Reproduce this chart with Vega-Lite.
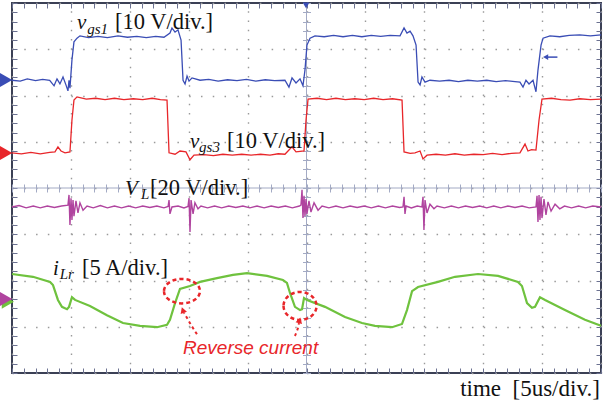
{
  "$schema": "https://vega.github.io/schema/vega-lite/v6.json",
  "width": 589,
  "height": 370,
  "autosize": {"type": "none"},
  "padding": {"left": 12, "top": 3, "right": 9, "bottom": 33},
  "background": "white",
  "config": {"view": {"stroke": "#3b4055", "strokeWidth": 2}},
  "datasets": {
    "center": [{"cx": 25, "cy": 0}],
    "vgs1": [
      {"t":0,"v":2.33},{"t":0.7,"v":2.31},{"t":1.3,"v":2.36},{"t":2.0,"v":2.32},{"t":2.6,"v":2.35},{"t":3.2,"v":2.33},{"t":3.57,"v":2.21},{"t":3.82,"v":2.36},{"t":4.07,"v":2.25},{"t":4.33,"v":2.40},{"t":4.58,"v":2.23},{"t":4.75,"v":2.10},{"t":4.84,"v":2.33},{"t":4.92,"v":2.16},{"t":5.09,"v":2.77},{"t":5.26,"v":3.16},{"t":5.52,"v":3.24},{"t":5.77,"v":3.29},{"t":6.5,"v":3.25},{"t":7.3,"v":3.28},{"t":8.1,"v":3.25},{"t":9.0,"v":3.29},{"t":9.8,"v":3.26},{"t":10.6,"v":3.28},{"t":11.4,"v":3.25},{"t":12.2,"v":3.28},{"t":12.9,"v":3.26},{"t":13.41,"v":3.35},{"t":13.58,"v":3.46},{"t":13.84,"v":3.37},{"t":14.09,"v":3.42},{"t":14.35,"v":3.20},{"t":14.52,"v":2.33},{"t":14.69,"v":2.25},{"t":14.86,"v":2.42},{"t":15.03,"v":2.31},{"t":15.28,"v":2.38},{"t":15.96,"v":2.33},{"t":16.7,"v":2.35},{"t":17.5,"v":2.31},{"t":18.3,"v":2.34},{"t":19.1,"v":2.32},{"t":19.9,"v":2.35},{"t":20.7,"v":2.31},{"t":21.5,"v":2.34},{"t":22.3,"v":2.32},{"t":23.17,"v":2.33},{"t":23.51,"v":2.18},{"t":23.77,"v":2.38},{"t":24.11,"v":2.27},{"t":24.45,"v":2.36},{"t":24.70,"v":2.21},{"t":24.87,"v":2.55},{"t":25.04,"v":3.09},{"t":25.30,"v":3.24},{"t":25.72,"v":3.29},{"t":26.5,"v":3.27},{"t":27.3,"v":3.30},{"t":28.1,"v":3.27},{"t":28.9,"v":3.30},{"t":29.7,"v":3.27},{"t":30.5,"v":3.30},{"t":31.3,"v":3.28},{"t":32.1,"v":3.30},{"t":32.94,"v":3.29},{"t":33.28,"v":3.46},{"t":33.53,"v":3.35},{"t":33.79,"v":3.39},{"t":34.04,"v":3.29},{"t":34.3,"v":3.09},{"t":34.47,"v":2.29},{"t":34.64,"v":2.23},{"t":34.80,"v":2.40},{"t":35.06,"v":2.29},{"t":35.48,"v":2.33},{"t":36.3,"v":2.31},{"t":37.1,"v":2.33},{"t":37.9,"v":2.30},{"t":38.7,"v":2.33},{"t":39.5,"v":2.31},{"t":40.3,"v":2.33},{"t":41.1,"v":2.30},{"t":41.9,"v":2.32},{"t":42.7,"v":2.30},{"t":43.12,"v":2.29},{"t":43.38,"v":2.18},{"t":43.63,"v":2.33},{"t":43.89,"v":2.25},{"t":44.23,"v":2.33},{"t":44.48,"v":2.08},{"t":44.65,"v":2.55},{"t":44.91,"v":3.09},{"t":45.08,"v":3.24},{"t":45.67,"v":3.29},{"t":46.5,"v":3.27},{"t":47.3,"v":3.30},{"t":48.2,"v":3.31},{"t":49.1,"v":3.29},{"t":50,"v":3.31}
    ],
    "vgs3": [
      {"t":0,"v":0.76},{"t":0.8,"v":0.74},{"t":1.6,"v":0.77},{"t":2.4,"v":0.74},{"t":3.2,"v":0.77},{"t":3.65,"v":0.78},{"t":3.90,"v":0.89},{"t":4.16,"v":0.80},{"t":4.50,"v":0.76},{"t":4.92,"v":0.78},{"t":5.09,"v":1.47},{"t":5.26,"v":1.90},{"t":5.52,"v":1.97},{"t":6.3,"v":1.92},{"t":7.1,"v":1.94},{"t":7.9,"v":1.91},{"t":8.7,"v":1.94},{"t":9.5,"v":1.91},{"t":10.3,"v":1.93},{"t":11.1,"v":1.91},{"t":11.9,"v":1.94},{"t":12.6,"v":1.91},{"t":13.16,"v":1.90},{"t":13.33,"v":0.76},{"t":13.84,"v":0.73},{"t":14.26,"v":0.80},{"t":14.77,"v":0.78},{"t":15.11,"v":0.61},{"t":15.45,"v":0.71},{"t":16.3,"v":0.72},{"t":17.1,"v":0.70},{"t":17.9,"v":0.73},{"t":18.7,"v":0.71},{"t":19.5,"v":0.73},{"t":20.3,"v":0.71},{"t":21.1,"v":0.73},{"t":21.9,"v":0.71},{"t":22.6,"v":0.74},{"t":23.17,"v":0.73},{"t":23.77,"v":0.89},{"t":24.11,"v":0.78},{"t":24.79,"v":0.80},{"t":24.96,"v":1.47},{"t":25.13,"v":1.92},{"t":25.9,"v":1.94},{"t":26.7,"v":1.91},{"t":27.5,"v":1.94},{"t":28.3,"v":1.91},{"t":29.1,"v":1.93},{"t":29.9,"v":1.91},{"t":30.7,"v":1.94},{"t":31.5,"v":1.91},{"t":32.3,"v":1.93},{"t":33.11,"v":1.90},{"t":33.28,"v":0.78},{"t":33.8,"v":0.75},{"t":34.21,"v":0.76},{"t":34.64,"v":0.80},{"t":34.89,"v":0.63},{"t":35.23,"v":0.71},{"t":36.0,"v":0.73},{"t":36.8,"v":0.71},{"t":37.6,"v":0.74},{"t":38.4,"v":0.71},{"t":39.2,"v":0.73},{"t":40.0,"v":0.72},{"t":40.8,"v":0.75},{"t":41.6,"v":0.72},{"t":42.4,"v":0.75},{"t":43.12,"v":0.76},{"t":43.55,"v":0.95},{"t":43.80,"v":0.80},{"t":44.1,"v":0.83},{"t":44.48,"v":0.82},{"t":44.74,"v":1.47},{"t":44.99,"v":1.92},{"t":45.8,"v":1.94},{"t":46.6,"v":1.91},{"t":47.37,"v":1.90},{"t":48.2,"v":1.93},{"t":49.1,"v":1.91},{"t":50,"v":1.92}
    ],
    "vl": [
      {"t":0,"v":-0.41},{"t":0.6,"v":-0.38},{"t":1.2,"v":-0.43},{"t":1.8,"v":-0.39},{"t":2.4,"v":-0.43},{"t":3.0,"v":-0.39},{"t":3.6,"v":-0.42},{"t":4.2,"v":-0.39},{"t":4.75,"v":-0.37},{"t":4.84,"v":-0.15},{"t":4.92,"v":-0.80},{"t":5.01,"v":-0.22},{"t":5.09,"v":-0.69},{"t":5.18,"v":-0.26},{"t":5.26,"v":-0.61},{"t":5.43,"v":-0.28},{"t":5.60,"v":-0.54},{"t":5.77,"v":-0.32},{"t":6.03,"v":-0.48},{"t":6.37,"v":-0.39},{"t":6.9,"v":-0.43},{"t":7.5,"v":-0.38},{"t":8.1,"v":-0.43},{"t":8.7,"v":-0.39},{"t":9.3,"v":-0.43},{"t":9.9,"v":-0.39},{"t":10.5,"v":-0.43},{"t":11.1,"v":-0.39},{"t":11.7,"v":-0.42},{"t":12.3,"v":-0.39},{"t":12.9,"v":-0.43},{"t":13.25,"v":-0.40},{"t":13.33,"v":-0.26},{"t":13.41,"v":-0.56},{"t":13.58,"v":-0.41},{"t":14.1,"v":-0.39},{"t":14.6,"v":-0.43},{"t":14.94,"v":-0.40},{"t":15.03,"v":-0.22},{"t":15.11,"v":-0.95},{"t":15.20,"v":-0.26},{"t":15.37,"v":-0.56},{"t":15.53,"v":-0.32},{"t":15.79,"v":-0.45},{"t":16.04,"v":-0.39},{"t":16.6,"v":-0.43},{"t":17.2,"v":-0.39},{"t":17.8,"v":-0.43},{"t":18.4,"v":-0.39},{"t":19.0,"v":-0.42},{"t":19.6,"v":-0.39},{"t":20.2,"v":-0.43},{"t":20.8,"v":-0.39},{"t":21.4,"v":-0.43},{"t":22.0,"v":-0.39},{"t":22.6,"v":-0.42},{"t":23.2,"v":-0.39},{"t":23.8,"v":-0.43},{"t":24.4,"v":-0.39},{"t":24.53,"v":-0.37},{"t":24.62,"v":-0.04},{"t":24.70,"v":-0.65},{"t":24.79,"v":-0.17},{"t":24.87,"v":-0.61},{"t":24.96,"v":-0.24},{"t":25.04,"v":-0.56},{"t":25.21,"v":-0.28},{"t":25.38,"v":-0.52},{"t":25.64,"v":-0.32},{"t":25.98,"v":-0.48},{"t":26.32,"v":-0.39},{"t":26.9,"v":-0.43},{"t":27.5,"v":-0.39},{"t":28.1,"v":-0.43},{"t":28.7,"v":-0.39},{"t":29.3,"v":-0.42},{"t":29.9,"v":-0.39},{"t":30.5,"v":-0.43},{"t":31.1,"v":-0.39},{"t":31.7,"v":-0.43},{"t":32.3,"v":-0.39},{"t":32.9,"v":-0.42},{"t":33.19,"v":-0.41},{"t":33.28,"v":-0.19},{"t":33.36,"v":-0.56},{"t":33.45,"v":-0.39},{"t":33.9,"v":-0.43},{"t":34.4,"v":-0.39},{"t":34.8,"v":-0.41},{"t":34.89,"v":-0.19},{"t":34.97,"v":-0.91},{"t":35.06,"v":-0.26},{"t":35.23,"v":-0.54},{"t":35.48,"v":-0.35},{"t":35.82,"v":-0.45},{"t":36.08,"v":-0.39},{"t":36.7,"v":-0.43},{"t":37.3,"v":-0.39},{"t":37.9,"v":-0.43},{"t":38.5,"v":-0.39},{"t":39.1,"v":-0.42},{"t":39.7,"v":-0.39},{"t":40.3,"v":-0.43},{"t":40.9,"v":-0.39},{"t":41.5,"v":-0.43},{"t":42.1,"v":-0.39},{"t":42.7,"v":-0.42},{"t":43.3,"v":-0.39},{"t":43.9,"v":-0.43},{"t":44.48,"v":-0.41},{"t":44.57,"v":-0.17},{"t":44.65,"v":-0.735},{"t":44.74,"v":-0.15},{"t":44.82,"v":-0.69},{"t":44.91,"v":-0.19},{"t":44.99,"v":-0.65},{"t":45.16,"v":-0.24},{"t":45.33,"v":-0.58},{"t":45.5,"v":-0.30},{"t":45.76,"v":-0.50},{"t":46.1,"v":-0.35},{"t":46.5,"v":-0.45},{"t":46.9,"v":-0.39},{"t":47.5,"v":-0.43},{"t":48.1,"v":-0.39},{"t":48.7,"v":-0.43},{"t":49.3,"v":-0.39},{"t":50,"v":-0.41}
    ],
    "ilr": [
      {"t":0,"v":-1.86},{"t":1.78,"v":-1.92},{"t":3.23,"v":-2.03},{"t":3.48,"v":-2.10},{"t":3.90,"v":-2.42},{"t":4.24,"v":-2.57},{"t":4.67,"v":-2.62},{"t":4.84,"v":-2.57},{"t":5.09,"v":-2.36},{"t":5.35,"v":-2.42},{"t":6.62,"v":-2.55},{"t":8.06,"v":-2.75},{"t":9.42,"v":-2.92},{"t":10.87,"v":-2.98},{"t":12.31,"v":-3.01},{"t":13.16,"v":-2.96},{"t":13.41,"v":-2.85},{"t":13.84,"v":-2.49},{"t":14.26,"v":-2.18},{"t":15.11,"v":-2.12},{"t":15.96,"v":-2.03},{"t":17.40,"v":-1.95},{"t":18.76,"v":-1.88},{"t":19.95,"v":-1.84},{"t":21.65,"v":-1.90},{"t":23.0,"v":-1.99},{"t":23.34,"v":-2.05},{"t":23.6,"v":-2.27},{"t":24.02,"v":-2.57},{"t":24.45,"v":-2.64},{"t":24.62,"v":-2.62},{"t":24.79,"v":-2.38},{"t":25.04,"v":-2.42},{"t":26.57,"v":-2.57},{"t":28.27,"v":-2.79},{"t":29.71,"v":-2.92},{"t":30.81,"v":-2.98},{"t":32.26,"v":-3.01},{"t":33.11,"v":-2.94},{"t":33.53,"v":-2.64},{"t":33.96,"v":-2.23},{"t":34.47,"v":-2.14},{"t":36.16,"v":-2.03},{"t":37.61,"v":-1.92},{"t":39.56,"v":-1.86},{"t":41.26,"v":-1.90},{"t":42.95,"v":-2.03},{"t":43.29,"v":-2.12},{"t":43.72,"v":-2.49},{"t":44.14,"v":-2.59},{"t":44.40,"v":-2.57},{"t":44.82,"v":-2.36},{"t":45.25,"v":-2.42},{"t":46.94,"v":-2.64},{"t":48.64,"v":-2.85},{"t":50,"v":-2.98}
    ],
    "markers": [
      {"t":-0.5,"v":2.335,"ch":"vgs1"},
      {"t":-0.5,"v":0.757,"ch":"vgs3"},
      {"t":-0.35,"v":-2.46,"ch":"iLr"},
      {"t":-0.5,"v":-2.40,"ch":"VL"}
    ],
    "trigger": [{"t":24.96,"v":3.95}],
    "refarrow": [{"t":45.3,"v":2.83},{"t":46.3,"v":2.83}],
    "sym": [
      {"t":5.52,"v":3.44,"s":"v"},
      {"t":15.11,"v":0.865,"s":"v"},
      {"t":9.59,"v":-0.15,"s":"V"},
      {"t":3.48,"v":-1.88,"s":"i"}
    ],
    "sub": [
      {"t":6.38,"v":3.34,"s":"gs1"},
      {"t":15.88,"v":0.78,"s":"gs3"},
      {"t":10.95,"v":-0.24,"s":"L"},
      {"t":4.05,"v":-1.97,"s":"Lr"}
    ],
    "unit": [
      {"t":8.74,"v":3.44,"s":"[10 V/div.]"},
      {"t":18.25,"v":0.865,"s":"[10 V/div.]"},
      {"t":11.72,"v":-0.15,"s":"[20 V/div.]"},
      {"t":5.94,"v":-1.88,"s":"[5 A/div.]"}
    ],
    "timelab": [{"t":49.9,"v":-4.5,"s":"time\u00a0\u00a0[5us/div.]"}],
    "revlab": [{"t":14.52,"v":-3.59,"s":"Reverse current"}],
    "circ1": [{"t":14.43,"v":-2.23}],
    "circ2": [{"t":24.45,"v":-2.55}],
    "arrows": [
      {"a":"a1","o":1,"t":15.70,"v":-3.16},{"a":"a1","o":2,"t":15.20,"v":-2.96},{"a":"a1","o":3,"t":14.77,"v":-2.77},{"a":"a1","o":4,"t":14.60,"v":-2.70},
      {"a":"a2","o":1,"t":24.02,"v":-3.20},{"a":"a2","o":2,"t":24.19,"v":-3.09},{"a":"a2","o":3,"t":24.32,"v":-2.98},{"a":"a2","o":4,"t":24.36,"v":-2.92}
    ],
    "head1": [{"t":14.50,"v":-2.64}],
    "head2": [{"t":24.41,"v":-2.86}]
  },
  "layer": [
    {
      "data": {"name": "center"},
      "mark": {"type": "rule", "color": "#a3aac4", "strokeWidth": 1},
      "encoding": {
        "x": {"field": "cx", "type": "quantitative", "scale": {"domain": [0, 50], "nice": false, "zero": false},
          "axis": {"orient": "bottom", "values": [0,5,10,15,20,25,30,35,40,45,50], "labels": false, "ticks": false, "domain": false, "title": null, "grid": true, "gridColor": "#9a9a9a", "gridWidth": 1.4, "gridDash": [1.5, 7.75]}}
      }
    },
    {
      "data": {"name": "center"},
      "mark": {"type": "rule", "color": "#a3aac4", "strokeWidth": 1},
      "encoding": {
        "y": {"field": "cy", "type": "quantitative", "scale": {"domain": [-4, 4], "nice": false, "zero": false},
          "axis": {"orient": "left", "values": [-4,-3,-2,-1,0,1,2,3,4], "labels": false, "ticks": false, "domain": false, "title": null, "grid": true, "gridColor": "#9a9a9a", "gridWidth": 1.4, "gridDash": [1.5, 10.28]}}
      }
    },
    {
      "data": {"name": "vgs1"},
      "mark": {"type": "line", "color": "#3a4db5", "strokeWidth": 1.3},
      "encoding": {
        "x": {"field": "t", "type": "quantitative", "scale": {"domain": [0, 50], "nice": false, "zero": false},
          "axis": {"orient": "bottom", "offset": -5, "tickSize": 5, "tickColor": "#6b7190", "values": [0,1,2,3,4,5,6,7,8,9,10,11,12,13,14,15,16,17,18,19,20,21,22,23,24,25,26,27,28,29,30,31,32,33,34,35,36,37,38,39,40,41,42,43,44,45,46,47,48,49,50], "labels": false, "domain": false, "grid": false, "title": null}},
        "y": {"field": "v", "type": "quantitative", "scale": {"domain": [-4, 4], "nice": false, "zero": false},
          "axis": {"orient": "left", "offset": -5, "tickSize": 5, "tickColor": "#6b7190", "values": [-4,-3.8,-3.6,-3.4,-3.2,-3,-2.8,-2.6,-2.4,-2.2,-2,-1.8,-1.6,-1.4,-1.2,-1,-0.8,-0.6,-0.4,-0.2,0,0.2,0.4,0.6,0.8,1,1.2,1.4,1.6,1.8,2,2.2,2.4,2.6,2.8,3,3.2,3.4,3.6,3.8,4], "labels": false, "domain": false, "grid": false, "title": null}}
      }
    },
    {
      "data": {"name": "vgs3"},
      "mark": {"type": "line", "color": "#e8262a", "strokeWidth": 1.3},
      "encoding": {
        "x": {"field": "t", "type": "quantitative", "scale": {"domain": [0, 50], "nice": false, "zero": false},
          "axis": {"orient": "top", "offset": -5, "tickSize": 5, "tickColor": "#6b7190", "values": [0,1,2,3,4,5,6,7,8,9,10,11,12,13,14,15,16,17,18,19,20,21,22,23,24,25,26,27,28,29,30,31,32,33,34,35,36,37,38,39,40,41,42,43,44,45,46,47,48,49,50], "labels": false, "domain": false, "grid": false, "title": null}},
        "y": {"field": "v", "type": "quantitative", "scale": {"domain": [-4, 4], "nice": false, "zero": false},
          "axis": {"orient": "right", "offset": -5, "tickSize": 5, "tickColor": "#6b7190", "values": [-4,-3.8,-3.6,-3.4,-3.2,-3,-2.8,-2.6,-2.4,-2.2,-2,-1.8,-1.6,-1.4,-1.2,-1,-0.8,-0.6,-0.4,-0.2,0,0.2,0.4,0.6,0.8,1,1.2,1.4,1.6,1.8,2,2.2,2.4,2.6,2.8,3,3.2,3.4,3.6,3.8,4], "labels": false, "domain": false, "grid": false, "title": null}}
      }
    },
    {
      "data": {"name": "vl"},
      "mark": {"type": "line", "color": "#b0449f", "strokeWidth": 1.4},
      "encoding": {
        "x": {"field": "t", "type": "quantitative", "scale": {"domain": [0, 50], "nice": false, "zero": false},
          "axis": {"orient": "bottom", "offset": -189, "tickSize": 8, "tickColor": "#a3aac4", "values": [0,1,2,3,4,5,6,7,8,9,10,11,12,13,14,15,16,17,18,19,20,21,22,23,24,25,26,27,28,29,30,31,32,33,34,35,36,37,38,39,40,41,42,43,44,45,46,47,48,49,50], "labels": false, "domain": false, "grid": false, "title": null}},
        "y": {"field": "v", "type": "quantitative", "scale": {"domain": [-4, 4], "nice": false, "zero": false},
          "axis": {"orient": "left", "offset": -298.5, "tickSize": 8, "tickColor": "#a3aac4", "values": [-4,-3.8,-3.6,-3.4,-3.2,-3,-2.8,-2.6,-2.4,-2.2,-2,-1.8,-1.6,-1.4,-1.2,-1,-0.8,-0.6,-0.4,-0.2,0,0.2,0.4,0.6,0.8,1,1.2,1.4,1.6,1.8,2,2.2,2.4,2.6,2.8,3,3.2,3.4,3.6,3.8,4], "labels": false, "domain": false, "grid": false, "title": null}}
      }
    },
    {
      "data": {"name": "ilr"},
      "mark": {"type": "line", "color": "#6fc23e", "strokeWidth": 2.2},
      "encoding": {
        "x": {"field": "t", "type": "quantitative", "scale": {"domain": [0, 50], "nice": false, "zero": false}, "axis": null},
        "y": {"field": "v", "type": "quantitative", "scale": {"domain": [-4, 4], "nice": false, "zero": false}, "axis": null}
      }
    },
    {
      "data": {"name": "markers"},
      "mark": {"type": "point", "shape": "triangle-right", "filled": true, "opacity": 1, "size": 200},
      "encoding": {
        "x": {"field": "t", "type": "quantitative", "scale": {"domain": [0, 50], "nice": false, "zero": false}, "axis": null},
        "y": {"field": "v", "type": "quantitative", "scale": {"domain": [-4, 4], "nice": false, "zero": false}, "axis": null},
        "color": {"field": "ch", "type": "nominal", "scale": {"domain": ["vgs1", "vgs3", "VL", "iLr"], "range": ["#3a4db5", "#e8262a", "#b0449f", "#6fc23e"]}, "legend": null}
      }
    },
    {
      "data": {"name": "trigger"},
      "mark": {"type": "point", "shape": "triangle-down", "filled": true, "opacity": 1, "size": 45, "color": "#3a4db5"},
      "encoding": {
        "x": {"field": "t", "type": "quantitative", "scale": {"domain": [0, 50], "nice": false, "zero": false}, "axis": null},
        "y": {"field": "v", "type": "quantitative", "scale": {"domain": [-4, 4], "nice": false, "zero": false}, "axis": null}
      }
    },
    {
      "data": {"name": "refarrow"},
      "mark": {"type": "line", "color": "#3a4db5", "strokeWidth": 1.5},
      "encoding": {
        "x": {"field": "t", "type": "quantitative", "scale": {"domain": [0, 50], "nice": false, "zero": false}, "axis": null},
        "y": {"field": "v", "type": "quantitative", "scale": {"domain": [-4, 4], "nice": false, "zero": false}, "axis": null}
      }
    },
    {
      "data": {"name": "refarrow"},
      "transform": [{"filter": "datum.t < 46"}],
      "mark": {"type": "point", "shape": "triangle-left", "filled": true, "opacity": 1, "size": 35, "color": "#3a4db5"},
      "encoding": {
        "x": {"field": "t", "type": "quantitative", "scale": {"domain": [0, 50], "nice": false, "zero": false}, "axis": null},
        "y": {"field": "v", "type": "quantitative", "scale": {"domain": [-4, 4], "nice": false, "zero": false}, "axis": null}
      }
    },
    {
      "data": {"name": "circ1"},
      "mark": {"type": "point", "shape": "M -1 0 A 1 0.68 0 1 0 1 0 A 1 0.68 0 1 0 -1 0 Z", "filled": false, "size": 1296, "stroke": "#e8262a", "strokeWidth": 2.5, "strokeDash": [4, 3], "opacity": 1},
      "encoding": {
        "x": {"field": "t", "type": "quantitative", "scale": {"domain": [0, 50], "nice": false, "zero": false}, "axis": null},
        "y": {"field": "v", "type": "quantitative", "scale": {"domain": [-4, 4], "nice": false, "zero": false}, "axis": null}
      }
    },
    {
      "data": {"name": "circ2"},
      "mark": {"type": "point", "shape": "M -1 0 A 1 0.85 0 1 0 1 0 A 1 0.85 0 1 0 -1 0 Z", "filled": false, "size": 1089, "stroke": "#e8262a", "strokeWidth": 2.5, "strokeDash": [4, 3], "opacity": 1},
      "encoding": {
        "x": {"field": "t", "type": "quantitative", "scale": {"domain": [0, 50], "nice": false, "zero": false}, "axis": null},
        "y": {"field": "v", "type": "quantitative", "scale": {"domain": [-4, 4], "nice": false, "zero": false}, "axis": null}
      }
    },
    {
      "data": {"name": "arrows"},
      "mark": {"type": "line", "color": "#e8262a", "strokeWidth": 2, "strokeDash": [3, 3], "interpolate": "monotone"},
      "encoding": {
        "x": {"field": "t", "type": "quantitative", "scale": {"domain": [0, 50], "nice": false, "zero": false}, "axis": null},
        "y": {"field": "v", "type": "quantitative", "scale": {"domain": [-4, 4], "nice": false, "zero": false}, "axis": null},
        "detail": {"field": "a", "type": "nominal"},
        "order": {"field": "o", "type": "quantitative"}
      }
    },
    {
      "data": {"name": "head1"},
      "mark": {"type": "point", "shape": "triangle-up", "filled": true, "opacity": 1, "size": 45, "color": "#e8262a", "angle": -20},
      "encoding": {
        "x": {"field": "t", "type": "quantitative", "scale": {"domain": [0, 50], "nice": false, "zero": false}, "axis": null},
        "y": {"field": "v", "type": "quantitative", "scale": {"domain": [-4, 4], "nice": false, "zero": false}, "axis": null}
      }
    },
    {
      "data": {"name": "head2"},
      "mark": {"type": "point", "shape": "triangle-up", "filled": true, "opacity": 1, "size": 45, "color": "#e8262a", "angle": 15},
      "encoding": {
        "x": {"field": "t", "type": "quantitative", "scale": {"domain": [0, 50], "nice": false, "zero": false}, "axis": null},
        "y": {"field": "v", "type": "quantitative", "scale": {"domain": [-4, 4], "nice": false, "zero": false}, "axis": null}
      }
    },
    {
      "data": {"name": "sym"},
      "mark": {"type": "text", "font": "Liberation Serif", "fontStyle": "italic", "fontSize": 21, "align": "left", "baseline": "alphabetic", "color": "#111111"},
      "encoding": {
        "x": {"field": "t", "type": "quantitative", "scale": {"domain": [0, 50], "nice": false, "zero": false}, "axis": null},
        "y": {"field": "v", "type": "quantitative", "scale": {"domain": [-4, 4], "nice": false, "zero": false}, "axis": null},
        "text": {"field": "s"}
      }
    },
    {
      "data": {"name": "sub"},
      "mark": {"type": "text", "font": "Liberation Serif", "fontStyle": "italic", "fontSize": 15, "align": "left", "baseline": "alphabetic", "color": "#111111"},
      "encoding": {
        "x": {"field": "t", "type": "quantitative", "scale": {"domain": [0, 50], "nice": false, "zero": false}, "axis": null},
        "y": {"field": "v", "type": "quantitative", "scale": {"domain": [-4, 4], "nice": false, "zero": false}, "axis": null},
        "text": {"field": "s"}
      }
    },
    {
      "data": {"name": "unit"},
      "mark": {"type": "text", "font": "Liberation Serif", "fontSize": 22.5, "align": "left", "baseline": "alphabetic", "color": "#111111"},
      "encoding": {
        "x": {"field": "t", "type": "quantitative", "scale": {"domain": [0, 50], "nice": false, "zero": false}, "axis": null},
        "y": {"field": "v", "type": "quantitative", "scale": {"domain": [-4, 4], "nice": false, "zero": false}, "axis": null},
        "text": {"field": "s"}
      }
    },
    {
      "data": {"name": "timelab"},
      "mark": {"type": "text", "font": "Liberation Serif", "fontSize": 23, "align": "right", "baseline": "alphabetic", "color": "#111111"},
      "encoding": {
        "x": {"field": "t", "type": "quantitative", "scale": {"domain": [0, 50], "nice": false, "zero": false}, "axis": null},
        "y": {"field": "v", "type": "quantitative", "scale": {"domain": [-4, 4], "nice": false, "zero": false}, "axis": null},
        "text": {"field": "s"}
      }
    },
    {
      "data": {"name": "revlab"},
      "mark": {"type": "text", "font": "Liberation Sans", "fontStyle": "italic", "fontSize": 19, "align": "left", "baseline": "alphabetic", "color": "#e8262a"},
      "encoding": {
        "x": {"field": "t", "type": "quantitative", "scale": {"domain": [0, 50], "nice": false, "zero": false}, "axis": null},
        "y": {"field": "v", "type": "quantitative", "scale": {"domain": [-4, 4], "nice": false, "zero": false}, "axis": null},
        "text": {"field": "s"}
      }
    }
  ],
  "resolve": {"axis": {"x": "independent", "y": "independent"}}
}
